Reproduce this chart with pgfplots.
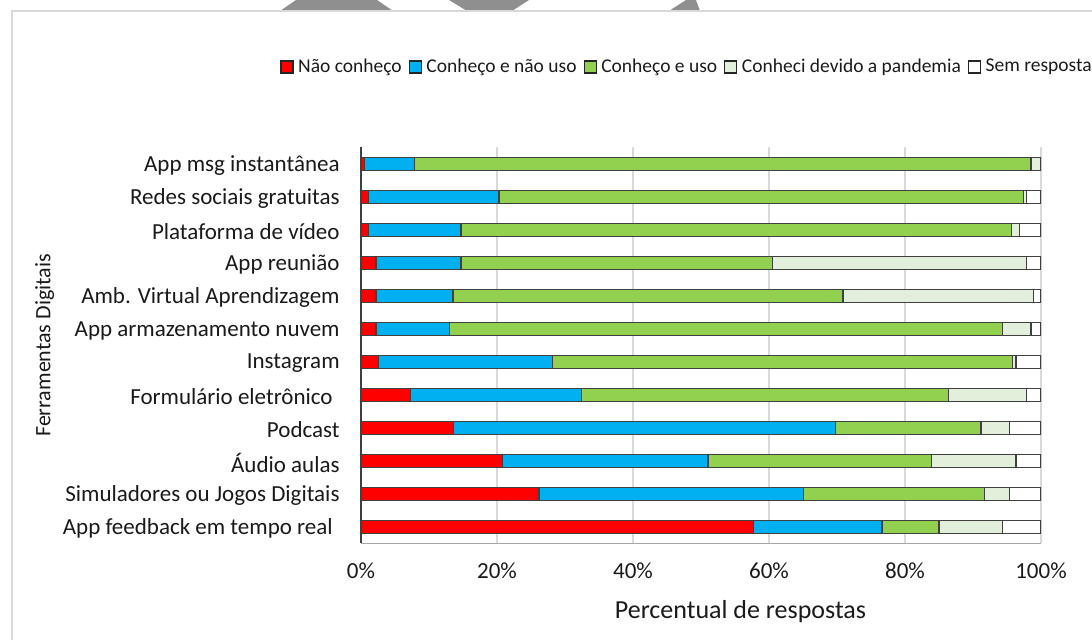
\documentclass[border=0pt]{standalone}
\usepackage{pgfplots}
\pgfplotsset{compat=1.18}
\usepackage{fontspec}
\setmainfont{Carlito}
\definecolor{cRed}{HTML}{FF0000}
\definecolor{cBlue}{HTML}{00B0F0}
\definecolor{cGreen}{HTML}{92D050}
\definecolor{cLight}{HTML}{E2EFDA}
\definecolor{cEdge}{HTML}{404040}
\definecolor{cGrid}{HTML}{D9D9D9}
\definecolor{cDeco}{HTML}{8F8F8F}
\definecolor{cText}{HTML}{1A1A1A}
\begin{document}
\begin{tikzpicture}
\useasboundingbox (0,0) rectangle (546pt,320pt);
\fill[cDeco] (148pt,320pt) -- (188.5pt,320pt) -- (196.5pt,314.5pt) -- (140pt,314.5pt) -- cycle;
\fill[cDeco] (224.5pt,320pt) -- (264.5pt,320pt) -- (256pt,314.5pt) -- (233.5pt,314.5pt) -- cycle;
\fill[cDeco] (343pt,320pt) -- (348pt,320pt) -- (350pt,314.5pt) -- (334.5pt,314.5pt) -- cycle;
\draw[cGrid, line width=0.6pt] (6pt,0pt) -- (6pt,314.5pt) -- (546pt,314.5pt);
\begin{axis}[
  at={(180.5pt,48.25pt)}, anchor=south west,
  scale only axis, width=340pt, height=198pt,
  xbar stacked, bar width=0.4,
  xmin=0, xmax=100, ymin=-0.5, ymax=11.5,
  xtick={0,20,40,60,80,100},
  xticklabels={0\%,20\%,40\%,60\%,80\%,100\%},
  ytick={0,1,2,3,4,5,6,7,8,9,10,11},
  yticklabels={App feedback em tempo real\kern3.5pt, Simuladores ou Jogos Digitais, Áudio aulas, Podcast, Formulário eletrônico\kern3.5pt, Instagram, App armazenamento nuvem, Amb. Virtual Aprendizagem, App reunião, Plataforma de vídeo, Redes sociais gratuitas, App msg instantânea},
  xmajorgrids, major grid style={cGrid, line width=0.6pt},
  axis x line=bottom, axis y line=left,
  x axis line style={-, draw=gray!70, line width=0.6pt},
  y axis line style={-, draw=cEdge, line width=0.6pt},
  major tick length=0pt, tick style={draw=none},
  xticklabel style={anchor=center, yshift=-13.75pt, font=\fontsize{11.5}{13}\selectfont, text=cText},
  yticklabel style={anchor=east, inner sep=0pt, xshift=-10.5pt, yshift=-0.8pt, font=\fontsize{11.5}{13}\selectfont, text=cText},
  xlabel={Percentual de respostas},
  xlabel style={at={(axis description cs:0.558,-0.173)}, anchor=center, font=\fontsize{13}{15}\selectfont, text=cText},
  ylabel={Ferramentas Digitais},
  ylabel style={at={(axis description cs:-0.465,0.5)}, anchor=center, font=\fontsize{11}{13}\selectfont, text=cText},
  legend style={draw=none, fill=none, at={(axis description cs:-0.119,1.203)}, anchor=west,
    inner sep=0pt, font=\fontsize{9.75}{11}\selectfont, text=cText,
    nodes={inner xsep=0pt, inner ysep=0pt},
    /tikz/every odd column/.append style={column sep=2.25pt},
    /tikz/every even column/.append style={column sep=3.5pt}},
  legend columns=-1,
  legend image code/.code={\draw[#1, draw=black!85, line width=0.6pt] (0pt,-3pt) rectangle (6pt,3pt);},
]
\addplot[fill=cRed, draw=cEdge, line width=0.7pt] coordinates {
(0.5,11) (1.1,10) (1.1,9) (2.2,8) (2.2,7) (2.2,6) (2.6,5) (7.3,4) (13.6,3) (20.8,2) (26.2,1) (57.7,0)};
\addlegendentry{Não conheço}
\addplot[fill=cBlue, draw=cEdge, line width=0.7pt] coordinates {
(7.4,11) (19.2,10) (13.6,9) (12.5,8) (11.3,7) (10.8,6) (25.6,5) (25.1,4) (56.2,3) (30.2,2) (38.9,1) (18.9,0)};
\addlegendentry{Conheço e não uso}
\addplot[fill=cGreen, draw=cEdge, line width=0.7pt] coordinates {
(90.6,11) (77.1,10) (81.0,9) (45.8,8) (57.4,7) (81.3,6) (67.6,5) (54.0,4) (21.4,3) (32.9,2) (26.6,1) (8.4,0)};
\addlegendentry{Conheço e uso}
\addplot[fill=cLight, draw=cEdge, line width=0.7pt] coordinates {
(1.5,11) (0.5,10) (1.1,9) (37.4,8) (28.0,7) (4.2,6) (0.5,5) (11.5,4) (4.2,3) (12.4,2) (3.7,1) (9.3,0)};
\addlegendentry{Conheci devido a pandemia}
\addplot[fill=white, draw=cEdge, line width=0.7pt] coordinates {
(0.0,11) (2.1,10) (3.2,9) (2.1,8) (1.1,7) (1.5,6) (3.7,5) (2.1,4) (4.6,3) (3.7,2) (4.6,1) (5.7,0)};
\addlegendentry{Sem resposta}
\end{axis}
\end{tikzpicture}
\end{document}
